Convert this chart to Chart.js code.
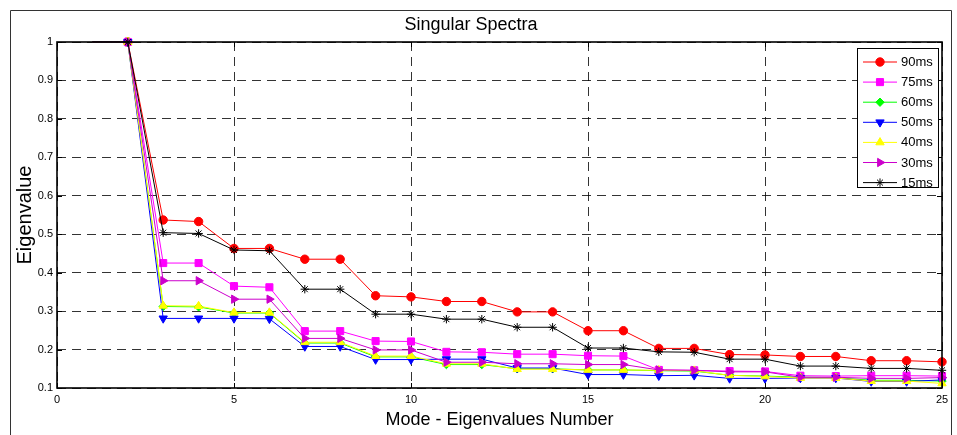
<!DOCTYPE html>
<html><head><meta charset="utf-8">
<script src="https://cdn.jsdelivr.net/npm/chart.js@4.4.1/dist/chart.umd.min.js"></script>
<style>html,body{margin:0;padding:0;background:#fff}#wrap{position:relative;width:957px;height:435px}</style>
</head><body><div id="wrap"><canvas id="c" width="957" height="435"></canvas></div>
<script>
// ---- data ----
const modes = [1,2,3,4,5,6,7,8,9,10,11,12,13,14,15,16,17,18,19,20,21,22,23,24,25];
const s90ms = [1,1,0.537,0.533,0.463,0.463,0.435,0.435,0.340,0.337,0.325,0.325,0.298,0.298,0.249,0.249,0.203,0.203,0.187,0.186,0.182,0.182,0.171,0.171,0.168];
const s75ms = [1,1,0.425,0.425,0.365,0.362,0.248,0.248,0.222,0.221,0.194,0.193,0.188,0.188,0.184,0.183,0.147,0.146,0.144,0.143,0.132,0.131,0.132,0.132,0.131];
const s60ms = [1,1,0.312,0.311,0.295,0.295,0.217,0.217,0.181,0.181,0.161,0.161,0.150,0.150,0.147,0.147,0.145,0.144,0.133,0.131,0.128,0.127,0.120,0.120,0.118];
const s50ms = [1,1,0.281,0.281,0.281,0.280,0.208,0.208,0.174,0.174,0.175,0.175,0.152,0.152,0.135,0.135,0.132,0.133,0.125,0.125,0.126,0.126,0.117,0.117,0.121];
const s40ms = [1,1,0.314,0.313,0.296,0.296,0.219,0.219,0.183,0.183,0.163,0.163,0.149,0.149,0.147,0.147,0.146,0.145,0.133,0.130,0.126,0.126,0.118,0.118,0.112];
const s30ms = [1,1,0.379,0.379,0.331,0.331,0.229,0.229,0.199,0.199,0.167,0.167,0.163,0.163,0.161,0.161,0.147,0.146,0.142,0.142,0.128,0.128,0.125,0.125,0.127];
const s15ms = [1,1,0.504,0.502,0.459,0.457,0.357,0.357,0.292,0.292,0.279,0.279,0.258,0.258,0.204,0.204,0.194,0.193,0.175,0.175,0.157,0.157,0.151,0.151,0.146];
const seriesLabels = ['90ms','75ms','60ms','50ms','40ms','30ms','15ms'];
const xTickLabels = ['0','5','10','15','20','25'];
const yTickLabels = ['0.1','0.2','0.3','0.4','0.5','0.6','0.7','0.8','0.9','1'];
const titleText = 'Singular Spectra';
const xTitle = 'Mode - Eigenvalues Number';
const yTitle = 'Eigenvalue';

// ---- styles ----
const FONT = '"Liberation Sans", Arial, Helvetica, sans-serif';
const styles = [
  {color:'#ff0000', pointStyle:'circle',   radius:4.2, rotation:0},
  {color:'#ff00ff', pointStyle:'rect',     radius:5,   rotation:0},
  {color:'#00ff00', pointStyle:'rectRot',  radius:4.2, rotation:0},
  {color:'#0000ff', pointStyle:'triangle', radius:4.8, rotation:180},
  {color:'#ffff00', pointStyle:'triangle', radius:4.8, rotation:0},
  {color:'#cc00cc', pointStyle:'triangle', radius:4.8, rotation:90},
  {color:'#000000', pointStyle:'star',     radius:4.2, rotation:0}
];
const allSeries = [s90ms,s75ms,s60ms,s50ms,s40ms,s30ms,s15ms];
const xTickVals = xTickLabels.map(Number);
const yTickVals = yTickLabels.map(Number);

const datasets = allSeries.map((arr,i)=>{
  const st = styles[i];
  return {
    label: seriesLabels[i],
    data: modes.map((m,j)=>({x:m, y:arr[j]})),
    borderColor: st.color, backgroundColor: st.color,
    borderWidth: 1, pointStyle: st.pointStyle, pointRotation: st.rotation,
    pointRadius: c => c.dataIndex === 0 ? 0 : st.radius,
    pointBorderWidth: 1, pointBorderColor: st.color, pointBackgroundColor: st.color,
    tension: 0, fill: false, order: allSeries.length - i, clip: false
  };
});

const framePlugin = {
  id:'frame',
  afterDatasetsDraw(chart){
    const {ctx, chartArea:a} = chart;
    const xs = chart.scales.x, ys = chart.scales.y;
    ctx.save();
    ctx.setLineDash([]);
    // plot box
    ctx.strokeStyle='#000'; ctx.lineWidth=1.6;
    ctx.strokeRect(a.left, a.top, a.right-a.left, a.bottom-a.top);
    // inward ticks
    ctx.lineWidth=1;
    ctx.beginPath();
    xTickVals.forEach(v=>{const p=Math.round(xs.getPixelForValue(v))+0.5;
      ctx.moveTo(p,a.bottom); ctx.lineTo(p,a.bottom-5); ctx.moveTo(p,a.top); ctx.lineTo(p,a.top+5);});
    yTickVals.forEach(v=>{const p=Math.round(ys.getPixelForValue(v))+0.5;
      ctx.moveTo(a.left,p); ctx.lineTo(a.left+5,p); ctx.moveTo(a.right,p); ctx.lineTo(a.right-5,p);});
    ctx.stroke();
    // legend
    const L = 857, T = 48, W = 81, Hh = 139;
    ctx.fillStyle='#fff'; ctx.fillRect(L,T,W,Hh);
    ctx.strokeStyle='#000'; ctx.lineWidth=1;
    ctx.strokeRect(L+0.5,T+0.5,W,Hh);
    seriesLabels.forEach((lab,i)=>{
      const st = styles[i];
      const y = T + 14 + i*20.1;
      ctx.strokeStyle=st.color; ctx.lineWidth=1;
      ctx.beginPath(); ctx.moveTo(L+6,y); ctx.lineTo(L+40,y); ctx.stroke();
      ctx.fillStyle=st.color;
      if (Chart.helpers && Chart.helpers.drawPoint) {
        Chart.helpers.drawPoint(ctx,{pointStyle:st.pointStyle, radius:st.radius, rotation:st.rotation, borderWidth:1}, L+23, y);
      }
      ctx.fillStyle='#000'; ctx.font='13px '+FONT; ctx.textBaseline='middle'; ctx.textAlign='left';
      ctx.fillText(lab, L+44, y+0.5);
    });
    // outer frame
    ctx.strokeStyle='#333'; ctx.lineWidth=1;
    ctx.beginPath(); ctx.moveTo(10.5,440); ctx.lineTo(10.5,10.5); ctx.lineTo(951.5,10.5); ctx.lineTo(951.5,440); ctx.stroke();
    ctx.restore();
  }
};

new Chart(document.getElementById('c'), {
  type:'line',
  data:{datasets},
  plugins:[framePlugin],
  options:{
    responsive:false, animation:false, events:[],
    layout:{padding:{left:0,right:15,top:0,bottom:0}},
    plugins:{
      legend:{display:false}, tooltip:{enabled:false},
      title:{display:true, text:titleText, color:'#000', font:{family:FONT,size:18,weight:'normal'}, padding:{top:14,bottom:6.4}}
    },
    scales:{
      x:{type:'linear', min:0, max:25,
        afterBuildTicks: s => { s.ticks = xTickVals.map(v=>({value:v})); },
        afterFit: s => { s.height = 47; },
        ticks:{callback:(v)=>xTickLabels[xTickVals.indexOf(v)], color:'#000', font:{family:FONT,size:11}, padding:5, maxRotation:0, autoSkip:false},
        grid:{color:'rgba(0,0,0,0.8)', lineWidth:1, drawTicks:false},
        border:{display:false, dash:[9,6]},
        title:{display:true, text:xTitle, color:'#000', font:{family:FONT,size:18}, padding:{top:0,bottom:4}}
      },
      y:{type:'linear', min:0.1, max:1,
        afterBuildTicks: s => { s.ticks = yTickVals.map(v=>({value:v})); },
        afterFit: s => { s.width = 57; },
        ticks:{callback:(v)=>{const k=yTickVals.findIndex(t=>Math.abs(t-v)<1e-9); return yTickLabels[k];}, color:'#000', font:{family:FONT,size:11}, padding:4, autoSkip:false},
        grid:{color:'rgba(0,0,0,0.8)', lineWidth:1, drawTicks:false},
        border:{display:false, dash:[9,6]},
        title:{display:true, text:yTitle, color:'#000', font:{family:FONT,size:20}, padding:{top:13,bottom:0}}
      }
    }
  }
});
</script>
</body></html>
